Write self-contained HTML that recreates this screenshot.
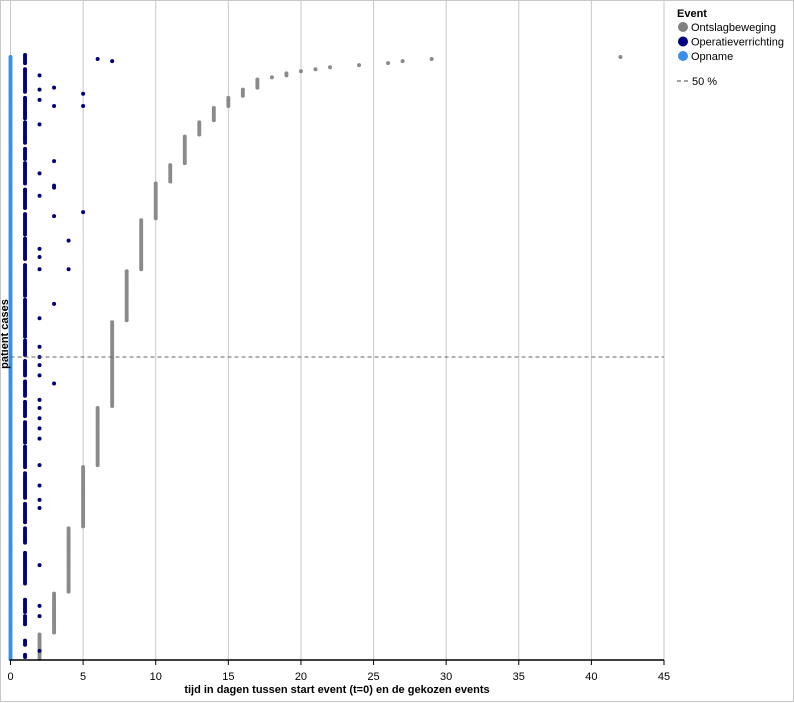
<!DOCTYPE html>
<html><head><meta charset="utf-8"><style>
body{margin:0;background:#fff;font-family:"Liberation Sans",Arial,sans-serif}
#wrap{position:relative;width:794px;height:702px;box-sizing:border-box;border:1px solid #c8c8c8;background:#fff}
svg{position:absolute;left:0;top:0}
</style></head><body>
<div id="wrap">
<svg id="chart" width="794" height="702"></svg>
</div>
<script>
// Discharge day groups (cases sorted by length of stay)
const dischargeDays = [2,3,4,5,6,7,8,9,10,11,12,13,14,15,16,17,18,19,20,21,22,24,26,27,29,42];
const dischargeCounts = [13,20,32,30,29,42,25,25,18,9,14,7,7,5,4,5,1,2,1,1,1,1,1,1,1,1];
// Operations at day 1: case index ranges [start,end]
const opDay1Start = [1,7,17,23,37,57,67,79,94,106,119,129,139,149,158,178,196,208,221,233,245,253,265,278,292];
const opDay1End   = [2,9,21,29,52,64,76,91,104,116,126,136,146,156,176,193,206,218,230,243,250,263,275,289,296];
// Other operations: case index and day
const opCases = [286,279,274,262,238,227,201,197,191,167,153,148,144,139,127,123,118,113,108,95,85,78,74,46,26,21,4,
  280,271,244,232,231,217,174,135, 205,191, 277,271,219, 294, 293];
const opDays  = [2,2,2,2,2,2,2,2,2,2,2,2,2,2,2,2,2,2,2,2,2,2,2,2,2,2,2,
  3,3,3,3,3,3,3,3, 4,4, 5,5,5, 6, 7];
const xTicks = [0,5,10,15,20,25,30,35,40,45];

const NS="http://www.w3.org/2000/svg";
const svg=document.getElementById('chart');
const L=9.5,R=663,T=55,B=659;
const N=dischargeCounts.reduce((a,b)=>a+b,0);
const h=(B-T)/N;
const xs=d=>L+(R-L)*d/45;
const ys=i=>B-(i+0.5)*h;
function mk(tag,attrs){const e=document.createElementNS(NS,tag);for(const k in attrs)e.setAttribute(k,attrs[k]);svg.appendChild(e);return e;}

xTicks.forEach(t=>{
  const g=mk('line',{x1:xs(t),x2:xs(t),y1:0,y2:B,stroke:'#c8c8c8','stroke-width':1});
  
  
  const lab=mk('text',{x:xs(t),y:679,'text-anchor':'middle','font-size':11,fill:'#000'});
  lab.textContent=t;
  
  
  const tk=mk('line',{x1:xs(t),x2:xs(t),y1:B,y2:B+5,stroke:'#000'});
  
  
});

for(let i=0;i<N;i++){
  const c=mk('circle',{cx:xs(0),cy:ys(i),r:2,fill:'#3a8ee6'});
  
  
}
let idx=0;
dischargeDays.forEach((d,k)=>{
  for(let j=0;j<dischargeCounts[k];j++){
    const c=mk('circle',{cx:xs(d),cy:ys(idx),r:2,fill:'#8a8a8a'});
    
    
    idx++;
  }
});
opDay1Start.forEach((s,k)=>{
  for(let i=s;i<=opDay1End[k];i++){
    const c=mk('circle',{cx:xs(1),cy:ys(i),r:2,fill:'#00007f'});
    
    
  }
});
opCases.forEach((ci,k)=>{
  const c=mk('circle',{cx:xs(opDays[k]),cy:ys(ci),r:2,fill:'#00007f'});
  
  
});

const med=mk('line',{x1:L,x2:R,y1:ys(N/2),y2:ys(N/2),stroke:'#666','stroke-dasharray':'4,3'});


const ax=mk('line',{x1:L-1,x2:R,y1:B,y2:B,stroke:'#000','stroke-width':1.5});


const xt=mk('text',{x:336,y:692,'text-anchor':'middle','font-size':11,'font-weight':'bold'});
xt.textContent='tijd in dagen tussen start event (t=0) en de gekozen events';


const yt=mk('text',{x:0,y:0,'text-anchor':'middle','font-size':11,'font-weight':'bold',transform:'translate(7,333) rotate(-90)'});
yt.textContent='patient cases';



const lt=mk('text',{x:676,y:16,'font-size':11,'font-weight':'bold'});
lt.textContent='Event';


const legNames=['Ontslagbeweging','Operatieverrichting','Opname'];
const legColors=['#808080','#00007f','#3a8ee6'];
legNames.forEach((n,k)=>{
  const y=26+k*14.5;
  const c=mk('circle',{cx:682,cy:y,r:5,fill:legColors[k]});
  
  
  const t=mk('text',{x:690,y:y+4,'font-size':11});
  t.textContent=n;
  
  
});
const ll=mk('line',{x1:676,x2:689,y1:80,y2:80,stroke:'#444','stroke-dasharray':'4,3'});


const lm=mk('text',{x:691,y:84,'font-size':11});
lm.textContent='50 %';


</script>
</body></html>
